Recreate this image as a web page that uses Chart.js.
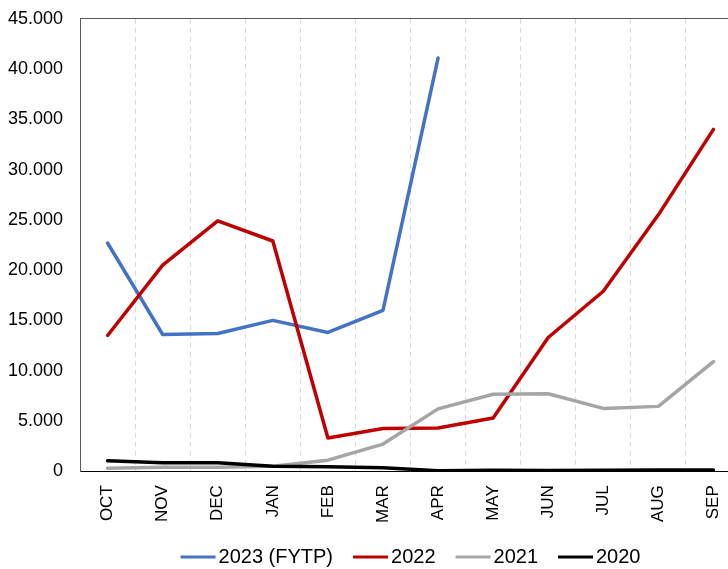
<!DOCTYPE html>
<html>
<head>
<meta charset="utf-8">
<script src="https://cdn.jsdelivr.net/npm/chart.js@4/dist/chart.umd.min.js"></script>
<style>
  html, body { margin: 0; padding: 0; background: #fff; overflow: hidden; }
  #wrap { width: 748px; height: 599px; margin-top: -9px; }
</style>
</head>
<body>
<div id="wrap"><canvas id="trendChart"></canvas></div>
<script>
const months = ['OCT', 'NOV', 'DEC', 'JAN', 'FEB', 'MAR', 'APR', 'MAY', 'JUN', 'JUL', 'AUG', 'SEP'];
const fy2023 = [22700, 13600, 13700, 15000, 13800, 16000, 41100, null, null, null, null, null];
const fy2022 = [13500, 20500, 24900, 22900, 3300, 4250, 4300, 5300, 13300, 17900, 25500, 34000];
const fy2021 = [300, 400, 400, 500, 1100, 2700, 6200, 7650, 7700, 6250, 6450, 10900];
const fy2020 = [1050, 850, 850, 500, 450, 350, 50, 100, 80, 100, 120, 120];
const yTicks = [0, 5000, 10000, 15000, 20000, 25000, 30000, 35000, 40000, 45000];

// petit trait pour la légende, presque collé au texte
function legendLine(color) {
    const c = document.createElement('canvas');
    c.width = 76;
    c.height = 4;
    const g = c.getContext('2d');
    g.fillStyle = color;
    g.fillRect(29, 0.5, 35, 3);
    return c;
}

// order : les séries récentes en dessous, comme dans Excel
function serie(label, data, color, order) {
    return {
        label: label,
        data: data,
        order: order,
        borderColor: color,
        backgroundColor: color,
        borderWidth: 3.5,
        pointRadius: 0,
        pointHoverRadius: 0,
        pointStyle: legendLine(color),
        tension: 0,
        borderJoinStyle: 'round',
        borderCapStyle: 'round',
        spanGaps: false
    };
}

const fmt = v => String(v).replace(/\B(?=(\d{3})+(?!\d))/g, '.');

// recentre la légende (le trait commence 10px après le début de l'item)
const legendShift = {
    id: 'legendShift',
    afterLayout(chart) {
        chart.legend.left -= 5;
        chart.legend.right -= 5;
    }
};

new Chart(document.getElementById('trendChart').getContext('2d'), {
    type: 'line',
    data: {
        labels: months,
        datasets: [
            serie('2023 (FYTP)', fy2023, '#4472C4', 4),
            serie('2022', fy2022, '#C00000', 3),
            serie('2021', fy2021, '#A5A5A5', 2),
            serie('2020', fy2020, '#000000', 1)
        ]
    },
    plugins: [legendShift],
    options: {
        responsive: true,
        maintainAspectRatio: false,
        animation: false,
        layout: { padding: { left: -9, right: 4, top: 0, bottom: 13 } },
        plugins: {
            tooltip: { enabled: false },
            legend: {
                position: 'bottom',
                fullSize: false,
                labels: {
                    usePointStyle: true,
                    pointStyleWidth: 38,
                    padding: 10,
                    color: '#000',
                    font: { family: "'Liberation Sans', Arial, sans-serif", size: 20 },
                    sort: (a, b) => a.datasetIndex - b.datasetIndex
                }
            }
        },
        scales: {
            x: {
                offset: true,
                grid: { offset: true, color: '#d9d9d9', lineWidth: 1, drawTicks: false },
                border: { color: '#000', width: 1, dash: [5, 4] },
                ticks: {
                    minRotation: 90,
                    maxRotation: 90,
                    padding: 14,
                    color: '#000',
                    font: { family: "'Liberation Sans', Arial, sans-serif", size: 17 }
                }
            },
            y: {
                min: 0,
                max: 45000,
                afterBuildTicks: axis => { axis.ticks = yTicks.map(v => ({ value: v })); },
                grid: {
                    drawTicks: false,
                    color: ctx => ctx.tick && ctx.tick.value === 45000 ? '#595959' : 'rgba(0,0,0,0)'
                },
                border: { color: '#595959', width: 1 },
                ticks: {
                    padding: 17,
                    color: '#000',
                    font: { family: "'Liberation Sans', Arial, sans-serif", size: 18 },
                    callback: v => fmt(v)
                }
            }
        }
    }
});
</script>
</body>
</html>
